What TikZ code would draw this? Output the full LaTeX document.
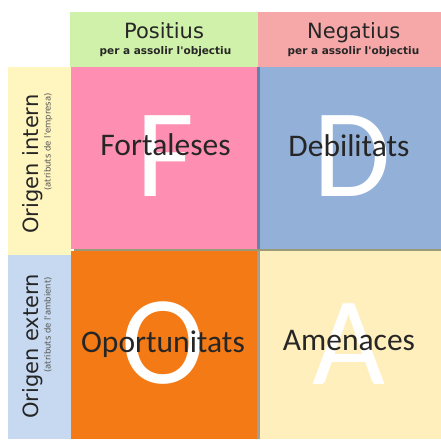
\documentclass[tikz,border=0pt]{standalone}
\usepackage{fontspec}
\setmainfont{DejaVu Sans}[Ligatures=TeXOff]
\newfontfamily\carl{Carlito}
\definecolor{hdgreen}{RGB}{208,241,170}
\definecolor{hdred}{RGB}{246,168,168}
\definecolor{qpink}{RGB}{255,143,178}
\definecolor{qblue}{RGB}{146,176,216}
\definecolor{qorange}{RGB}{244,122,21}
\definecolor{qyellow}{RGB}{255,239,188}
\definecolor{lyellow}{RGB}{255,245,190}
\definecolor{lblue}{RGB}{198,217,240}
\definecolor{shblue}{RGB}{98,131,174}
\definecolor{shgray}{RGB}{158,160,156}
\definecolor{shol}{RGB}{154,154,120}
\definecolor{txt}{RGB}{38,38,38}
\definecolor{subtxt}{RGB}{85,85,85}
\tikzset{
  bigletter/.style={inner sep=0pt, text=white, font=\carl\fontsize{126}{130}\selectfont},
  qword/.style={inner sep=0pt, anchor=base, text=txt, font=\carl\fontsize{31.5}{36}\selectfont},
  hdmain/.style={inner sep=0pt, anchor=base, text=txt, font=\fontsize{21}{25}\selectfont},
  hdsub/.style={inner sep=0pt, anchor=base, text=txt, font=\bfseries\fontsize{10.5}{12}\selectfont},
  sdmain/.style={inner sep=0pt, anchor=base, rotate=90, text=txt, font=\fontsize{21}{25}\selectfont},
  sdsub/.style={inner sep=0pt, anchor=base east, rotate=90, text=subtxt, font=\fontsize{8.5}{10}\selectfont},
}
\begin{document}
\begin{tikzpicture}[x=1pt,y=-1pt]
\useasboundingbox (0,0) rectangle (441,439);
% header
\fill[hdgreen] (70,12) rectangle (258,67);
\fill[hdred] (258,12) rectangle (441,67);
% side
\fill[lyellow] (8,67) rectangle (71,255);
\fill[lblue] (8,255) rectangle (71,439);
% quadrants
\fill[qpink] (71,67) rectangle (258,249);
\fill[qblue] (258,67) rectangle (441,249);
\fill[qorange] (71,251) rectangle (257,439);
\fill[qyellow] (260,251) rectangle (441,439);
% shadow strips
\fill[shblue] (257,67) rectangle (259.5,249);
\fill[shol] (74,249) rectangle (441,251);
\fill[shgray] (257,251) rectangle (260,439);
% letters
\node[bigletter] (F) at (165,156.5) {F};
\node[bigletter] (D) at (352,156) {D};
\node[bigletter] (O) at (163,343) {O};
\node[bigletter] (A) at (349,344) {A};
% words
\node[qword] (fort) at (165.5,155.3) {Fortaleses};
\node[qword] (debi) at (349,156.5) {Debilitats};
\node[qword] (opor) at (163,352) {Oportunitats};
\node[qword] (amen) at (349,350) {Amenaces};
% header texts
\node[hdmain] (pos) at (164,38) {Positius};
\node[hdsub] (pos2) at (165.5,54.3) {per a assolir l'objectiu};
\node[hdmain] (neg) at (353.7,38) {Negatius};
\node[hdsub] (neg2) at (353.5,54.3) {per a assolir l'objectiu};
% side texts
\node[sdmain] (int) at (38,164) {Origen intern};
\node[sdsub] (int2) at (50.5,93) {(atributs de l'empresa)};
\node[sdmain] (ext) at (38,346.5) {Origen extern};
\node[sdsub] (ext2) at (50.5,277) {(atributs de l'ambient)};
\end{tikzpicture}
\end{document}
